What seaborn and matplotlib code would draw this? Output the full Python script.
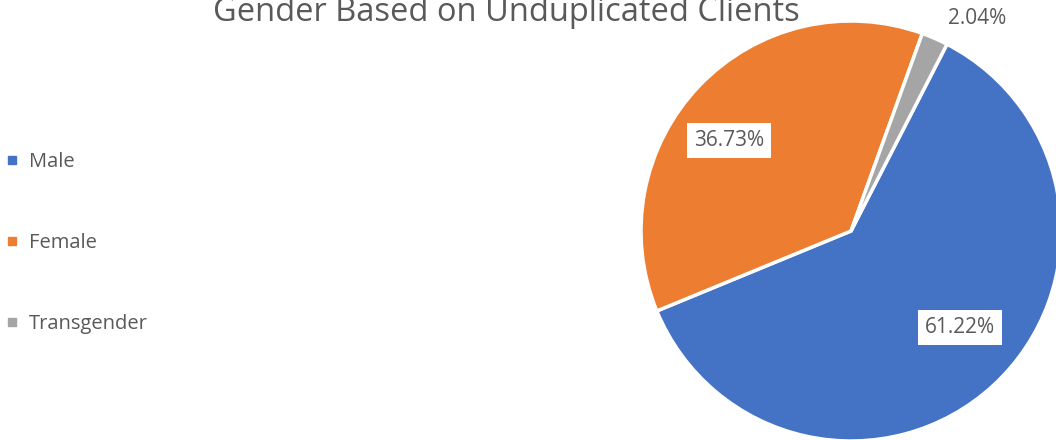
import matplotlib
matplotlib.use("Agg")
import matplotlib.pyplot as plt
import seaborn as sns
from matplotlib.lines import Line2D

# data
genders = ["Male", "Female", "Transgender"]
shares = [61.22, 36.73, 2.04]
colors = ["#4472C4", "#ED7D31", "#A5A5A5"]
title = "Gender Based on Unduplicated Clients"

sns.set_theme(style="white")
plt.rcParams["font.family"] = ["Open Sans", "DejaVu Sans"]
text_grey = "#595959"

fig = plt.figure(figsize=(10.56, 4.4), dpi=100)
ax = fig.add_axes([0, 0, 1, 1])

wedges, texts, autotexts = ax.pie(
    shares,
    colors=colors,
    startangle=62.8,
    counterclock=False,
    radius=1.0,
    autopct="%.2f%%",
    pctdistance=0.72,
    wedgeprops=dict(edgecolor="white", linewidth=2.5),
    textprops=dict(color=text_grey, fontsize=15),
)

# show the shares as given (autopct would renormalise them)
for t, v in zip(autotexts, shares):
    t.set_text(f"{v:.2f}%")

# Excel-style data labels: white boxes inside, plain text outside for the small slice
for t in autotexts[:2]:
    t.set_bbox(dict(facecolor="white", edgecolor="none", pad=5))
autotexts[0].set_position((0.52, -0.46))
autotexts[1].set_position((-0.58, 0.43))
autotexts[2].set_position((0.60, 1.01))

# pie centre at ~(851, 231) px, radius ~210 px
ax.set_xlim(-851 / 210, (1056 - 851) / 210)
ax.set_ylim((231 - 440) / 210, 231 / 210)
ax.axis("off")

# title sits partly above the top edge, as in the reference
fig.text(506 / 1056, 1 - 21 / 440, title, ha="center", va="baseline",
         fontsize=23.5, color=text_grey)

handles = [Line2D([], [], marker="s", linestyle="none", markersize=5.5,
                  markerfacecolor=c, markeredgecolor=c) for c in colors]
fig.legend(handles, genders, loc="center left", bbox_to_anchor=(0.0, 1 - 243 / 440),
           frameon=False, fontsize=14.5, labelcolor=text_grey, handlelength=0.8,
           handletextpad=0.45, labelspacing=3.05, borderpad=0, borderaxespad=0.2)

fig.savefig("out.png", dpi=100)
